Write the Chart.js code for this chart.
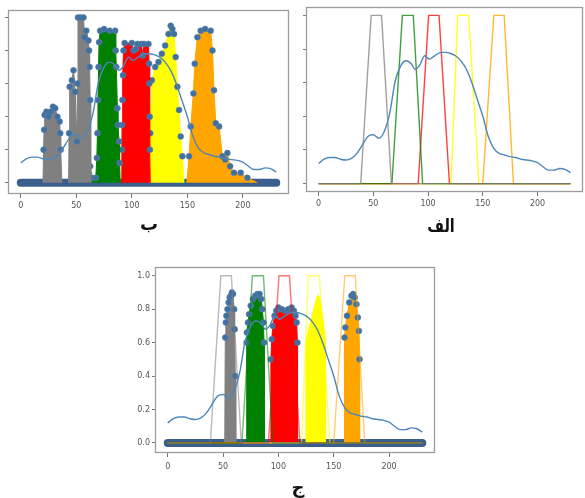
<!DOCTYPE html>
<html><head><meta charset="utf-8">
<script src="https://cdn.jsdelivr.net/npm/chart.js@4/dist/chart.umd.min.js"></script>
<style>
html,body{margin:0;padding:0;background:#fff;}
body{width:585px;height:498px;position:relative;overflow:hidden;}
canvas{position:absolute;}
.t{position:absolute;font-family:'DejaVu Sans',sans-serif;font-weight:bold;font-size:18px;color:#111;transform:translate(-50%,-50%);direction:rtl;white-space:nowrap;line-height:1;}
</style></head><body>
<canvas id="cB" style="left:0;top:0" width="300" height="215"></canvas>
<canvas id="cA" style="left:295px;top:0" width="290" height="215"></canvas>
<canvas id="cC" style="left:125px;top:255px" width="320" height="225"></canvas>
<div class="t" id="tB" style="left:149px;top:224px"></div>
<div class="t" id="tA" style="left:441px;top:226px;transform:translate(-50%,-50%) scaleX(0.8)"></div>
<div class="t" id="tC" style="left:298px;top:487px"></div>
<script>
// ---------- data ----------
const xTicks = [0, 50, 100, 150, 200];
const yTicks = [0, 0.2, 0.4, 0.6, 0.8, 1.0];
const yTickLabels = ['0.0', '0.2', '0.4', '0.6', '0.8', '1.0'];
const titles = ['الف', 'ب', 'ج'];

// smooth signal (blue curve)
const signalX = [0,5,10,15,20,25,30,35,40,45,50,55,60,65,70,75,80,85,88,92,97,101,106,112,116,120,125,130,135,140,145,150,155,160,165,170,175,180,185,190,195,200,205,210,215,220,225,230];
const signalY = [0.12,0.145,0.155,0.155,0.145,0.14,0.15,0.18,0.23,0.28,0.29,0.27,0.31,0.42,0.61,0.70,0.73,0.71,0.68,0.70,0.76,0.74,0.76,0.78,0.78,0.775,0.76,0.73,0.68,0.60,0.50,0.40,0.28,0.21,0.18,0.17,0.16,0.155,0.145,0.14,0.135,0.125,0.10,0.08,0.08,0.09,0.085,0.065];

// trapezoid membership functions: [foot-left, shoulder-left, shoulder-right, foot-right]
const mfGray   = [38.5, 48, 57.5, 66.5];
const mfGreen  = [67, 76.5, 86.5, 95];
const mfRed    = [91, 100.5, 110, 119.5];
const mfYellow = [121, 127, 137, 146.5];
const mfOrange = [150, 160, 169.5, 178];
const mfLevels = [0, 0, 1, 1, 0, 0];
const xStart = 0, xEnd = 230;

// panel ب : selected samples
const bGrayAX = [20, 20.5, 21, 21.5, 23, 25, 27, 29, 31, 33, 35, 35.5, 36, 37];
const bGrayAY = [0, 0.2, 0.32, 0.41, 0.43, 0.40, 0.43, 0.46, 0.45, 0.40, 0.37, 0.3, 0.2, 0];
const bGrayBX = [43, 43.5, 44, 46, 47.5, 49, 50.5, 51, 51.5, 54, 56.5, 57.5, 59, 61, 61.5, 62, 62.5, 63];
const bGrayBY = [0, 0.3, 0.58, 0.62, 0.68, 0.55, 0.25, 0.6, 1.0, 1.0, 1.0, 0.88, 0.92, 0.86, 0.8, 0.7, 0.5, 0];
const bGreenX = [59.5, 60.5, 62.5, 64, 67.5, 68.5, 69, 69.5, 70, 70.5, 71.5, 75, 80, 85, 85.5, 86, 87, 87.5, 88.5, 89, 89.5];
const bGreenY = [0, 0.12, 0.1, 0.03, 0.03, 0.15, 0.3, 0.5, 0.7, 0.85, 0.92, 0.93, 0.92, 0.92, 0.8, 0.7, 0.45, 0.35, 0.25, 0.12, 0];
const bRedX = [90.5, 91, 91.2, 91.5, 92, 92.5, 93.5, 100, 101.5, 104, 105, 108.5, 110, 111, 115, 115.5, 115.8, 116.1, 116.3, 116.6];
const bRedY = [0, 0.2, 0.35, 0.5, 0.65, 0.8, 0.845, 0.845, 0.8, 0.81, 0.84, 0.84, 0.77, 0.84, 0.84, 0.72, 0.6, 0.4, 0.2, 0];
const bYellowX = [115.5, 116.5, 118, 121, 124, 127, 130, 133, 135, 136.5, 138, 139.5, 141, 142.5, 144, 145.5, 147];
const bYellowY = [0, 0.3, 0.62, 0.7, 0.73, 0.78, 0.83, 0.9, 0.95, 0.93, 0.9, 0.76, 0.58, 0.44, 0.28, 0.16, 0];
const bOrangeX = [149.5, 151.5, 153, 155.4, 156.6, 159, 162, 166, 171, 172.6, 174, 175.6, 178.6, 181.6, 184, 186, 188.5, 192, 198, 204, 213];
const bOrangeY = [0, 0.16, 0.34, 0.54, 0.72, 0.88, 0.92, 0.93, 0.92, 0.8, 0.56, 0.36, 0.34, 0.16, 0.14, 0.18, 0.1, 0.06, 0.06, 0.03, 0];
const bBaseEnd = 212;

// panel ج : selected samples
const cGrayX = [51.5, 52, 52.5, 53, 54, 55, 56, 57, 58, 59, 60, 60.5, 61, 61.5];
const cGrayY = [0, 0.63, 0.72, 0.76, 0.8, 0.84, 0.87, 0.88, 0.9, 0.89, 0.8, 0.68, 0.4, 0];
const cGreenX = [71, 71.2, 71.5, 72.5, 73.5, 75, 77, 79, 81, 83, 84.5, 85.5, 86.5, 87, 87.2];
const cGreenY = [0, 0.6, 0.66, 0.72, 0.77, 0.82, 0.86, 0.88, 0.89, 0.89, 0.86, 0.8, 0.72, 0.6, 0];
const cRedX = [93, 93.2, 94, 95, 96.5, 98, 100, 103, 106, 109, 112, 114, 115.5, 116.5, 117.2, 117.3];
const cRedY = [0, 0.5, 0.62, 0.7, 0.76, 0.79, 0.81, 0.8, 0.79, 0.8, 0.81, 0.79, 0.76, 0.72, 0.6, 0];
const cYellowX = [124.8, 124.9, 127, 130, 133, 135, 136.5, 138, 140, 141.5, 142.5, 142.6];
const cYellowY = [0, 0.6, 0.67, 0.75, 0.83, 0.88, 0.88, 0.84, 0.76, 0.68, 0.6, 0];
const cOrangeX = [159.5, 159.7, 160.5, 162, 164, 166, 167.5, 169, 170.5, 171.8, 172.8, 173.3, 173.4];
const cOrangeY = [0, 0.63, 0.69, 0.76, 0.84, 0.88, 0.89, 0.87, 0.83, 0.75, 0.67, 0.5, 0];

// ---------- helpers ----------
document.getElementById('tA').textContent = titles[0];
document.getElementById('tB').textContent = titles[1];
document.getElementById('tC').textContent = titles[2];

const COL = {gray:'#808080', green:'#008000', red:'#ff0000', yellow:'#ffff00', orange:'#ffa500'};
const MF_COL_A = {gray:'rgba(128,128,128,0.75)', green:'rgba(0,128,0,0.75)', red:'rgba(255,0,0,0.75)', yellow:'rgba(255,255,0,0.85)', orange:'rgba(255,165,0,0.8)'};
const MF_COL_C = {gray:'rgba(128,128,128,0.55)', green:'rgba(0,128,0,0.55)', red:'rgba(255,0,0,0.55)', yellow:'rgba(255,255,0,0.6)', orange:'rgba(255,165,0,0.55)'};
const MARK = '#41709e';
const BAND = '#3b5f8c';
const zip = (xs, ys) => xs.map((x, i) => ({x, y: ys[i]}));
const mfPts = m => zip([xStart, m[0], m[1], m[2], m[3], xEnd], mfLevels);

function signalDs(){
  return {data: zip(signalX, signalY), borderColor:'#4f86b8', borderWidth:1.4, pointRadius:0, cubicInterpolationMode:'monotone', fill:false};
}
function mfDs(m, c){
  return {data: mfPts(m), borderColor:c, borderWidth:1.4, pointRadius:0, fill:false, tension:0};
}
function regionDs(xs, ys, c, r){
  return {data: zip(xs, ys), borderColor:c, backgroundColor:c, borderWidth:1, fill:'origin', tension:0,
    pointRadius: ctx => (ctx.raw && ctx.raw.y > 0.02 ? r : 0),
    pointBackgroundColor: MARK, pointBorderColor: 'rgba(90,130,180,0.8)', pointBorderWidth: 0.6};
}
function bandDs(){
  return {data: zip([xStart, xEnd], [0, 0]), borderColor: BAND, borderWidth: 8, borderCapStyle:'round', pointRadius:0, fill:false};
}

const framePlugin = {id:'frame', afterDatasetsDraw(chart){
  const {ctx, chartArea:a} = chart;
  ctx.save(); ctx.strokeStyle = '#9c9c9c'; ctx.lineWidth = 1.3;
  ctx.strokeRect(Math.round(a.left)+0.5, Math.round(a.top)+0.5, Math.round(a.right-a.left)-1, Math.round(a.bottom-a.top)-1);
  ctx.restore();
}};

function makeChart(id, datasets, o){
  new Chart(document.getElementById(id), {
    type:'line',
    data:{datasets},
    options:{
      responsive:false, animation:false, events:[],
      layout:{padding:{left:0, top:o.top, right:o.right, bottom:0}},
      plugins:{legend:{display:false}, tooltip:{enabled:false}, title:{display:false}},
      scales:{
        x:{type:'linear', min:-11.5, max:241.5,
          afterBuildTicks: s => { s.ticks = xTicks.map(v => ({value:v})); },
          afterFit: s => { s.height = o.xh; },
          grid:{drawOnChartArea:false, tickLength:4, tickColor:'#777'}, border:{display:false},
          ticks:{font:{family:'DejaVu Sans', size:8}, color:'#555', padding:o.xpad, maxRotation:0, autoSkip:false}},
        y:{type:'linear', min:o.ymin, max:o.ymax,
          afterBuildTicks: s => { s.ticks = yTicks.map(v => ({value:v})); },
          afterFit: s => { s.width = o.yw; },
          grid:{drawOnChartArea:false, tickLength:3, tickColor:'#777'}, border:{display:false},
          ticks:{font:{family:'DejaVu Sans', size:8}, color:o.ylab ? '#555' : 'rgba(0,0,0,0)', padding:2,
            callback:(v, i) => yTickLabels[i]}}
      }
    },
    plugins:[framePlugin]
  });
}

// panel ب
makeChart('cB', [
  signalDs(),
  regionDs(bGrayAX, bGrayAY, COL.gray, 3),
  regionDs(bGrayBX, bGrayBY, COL.gray, 3),
  regionDs(bGreenX, bGreenY, COL.green, 3),
  regionDs(bRedX, bRedY, COL.red, 3),
  regionDs(bYellowX, bYellowY, COL.yellow, 3),
  regionDs(bOrangeX, bOrangeY, COL.orange, 3),
  bandDs(),
  {data: zip([xStart, bBaseEnd], [0, 0]), borderColor:'#e8781e', borderWidth:1.6, pointRadius:0, fill:false}
], {top:10, right:11, xh:21, xpad:3, yw:8, ymin:-0.068, ymax:1.045, ylab:false});

// panel الف
makeChart('cA', [
  signalDs(),
  mfDs(mfGray, MF_COL_A.gray),
  mfDs(mfGreen, MF_COL_A.green),
  mfDs(mfRed, MF_COL_A.red),
  mfDs(mfYellow, MF_COL_A.yellow),
  mfDs(mfOrange, MF_COL_A.orange)
], {top:7, right:2, xh:23, xpad:3, yw:11, ymin:-0.05, ymax:1.05, ylab:false});

// panel ج
makeChart('cC', [
  signalDs(),
  mfDs(mfGray, MF_COL_C.gray),
  mfDs(mfGreen, MF_COL_C.green),
  mfDs(mfRed, MF_COL_C.red),
  mfDs(mfYellow, MF_COL_C.yellow),
  mfDs(mfOrange, MF_COL_C.orange),
  regionDs(cGrayX, cGrayY, COL.gray, 3),
  regionDs(cGreenX, cGreenY, COL.green, 3),
  regionDs(cRedX, cRedY, COL.red, 3),
  regionDs(cYellowX, cYellowY, COL.yellow, 0),
  regionDs(cOrangeX, cOrangeY, COL.orange, 3),
  bandDs()
], {top:12, right:10, xh:27, xpad:5, yw:30, ymin:-0.06, ymax:1.052, ylab:true});
</script>
</body></html>
